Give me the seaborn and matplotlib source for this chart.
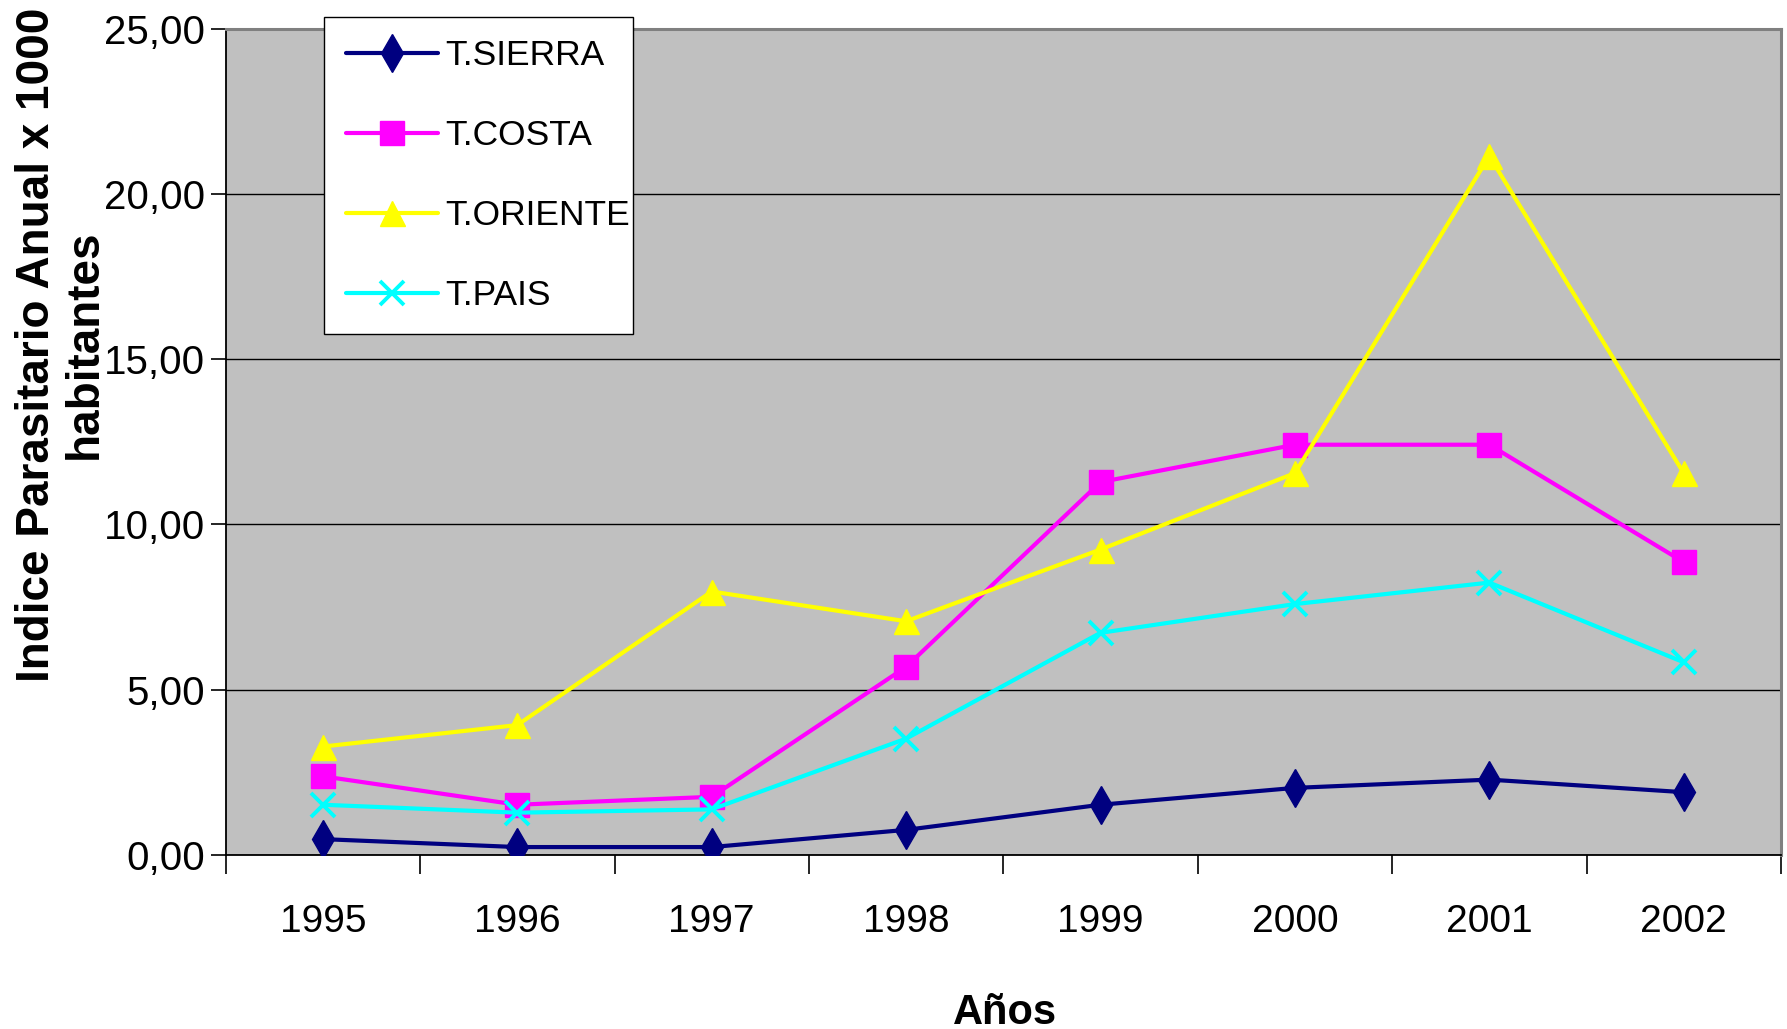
import matplotlib
matplotlib.use("Agg")
import matplotlib.pyplot as plt
from matplotlib.ticker import FixedLocator, FuncFormatter
import seaborn as sns
import pandas as pd

# Annual parasite index per 1000 inhabitants, by region
years = [1995, 1996, 1997, 1998, 1999, 2000, 2001, 2002]
sierra = [0.48, 0.24, 0.24, 0.76, 1.52, 2.03, 2.28, 1.90]
costa = [2.38, 1.52, 1.76, 5.69, 11.28, 12.41, 12.41, 8.86]
oriente = [3.28, 3.93, 7.97, 7.07, 9.24, 11.55, 21.14, 11.55]
pais = [1.52, 1.28, 1.38, 3.52, 6.72, 7.59, 8.24, 5.83]
series_names = ["T.SIERRA", "T.COSTA", "T.ORIENTE", "T.PAIS"]
y_ticks = [0, 5, 10, 15, 20, 25]

colors = {"T.SIERRA": "#000080", "T.COSTA": "#FF00FF",
          "T.ORIENTE": "#FFFF00", "T.PAIS": "#00FFFF"}
markers = {"T.SIERRA": "d", "T.COSTA": "s", "T.ORIENTE": "^", "T.PAIS": "x"}
msizes = {"T.SIERRA": 19, "T.COSTA": 17, "T.ORIENTE": 18, "T.PAIS": 17}

frames = []
for name, vals in zip(series_names, [sierra, costa, oriente, pais]):
    frames.append(pd.DataFrame({"Año": years, "Valor": vals, "Serie": name}))
df = pd.concat(frames, ignore_index=True)

sns.set_theme(style="white")
font_list = ["Liberation Sans", "DejaVu Sans"]
plt.rcParams["font.family"] = font_list
plt.rcParams["text.color"] = "black"
plt.rcParams["axes.labelcolor"] = "black"
plt.rcParams["xtick.color"] = "black"
plt.rcParams["ytick.color"] = "black"

fig = plt.figure(figsize=(17.87, 10.29), dpi=100)
fig.patch.set_facecolor("white")
ax = fig.add_axes([0.1263, 0.1691, 0.8703, 0.8032])
ax.set_facecolor("#C0C0C0")

for name in series_names:
    sub = df[df["Serie"] == name]
    sns.lineplot(data=sub, x="Año", y="Valor", ax=ax, color=colors[name],
                 linewidth=3.0, marker=markers[name], markersize=msizes[name],
                 markeredgecolor=colors[name],
                 markeredgewidth=2.8 if name == "T.PAIS" else 1,
                 label=name, zorder=3)

ax.set_xlim(years[0] - 0.5, years[-1] + 0.5)
ax.set_ylim(0, 25)

# horizontal gridlines
ax.yaxis.set_major_locator(FixedLocator(y_ticks))
ax.grid(axis="y", color="black", linewidth=1.0, zorder=1)
ax.grid(axis="x", visible=False)
ax.set_axisbelow(True)

ax.yaxis.set_major_formatter(FuncFormatter(lambda v, p: f"{v:.2f}".replace(".", ",")))
ax.tick_params(axis="y", which="major", direction="out", length=11, width=1.2,
               color="black", labelcolor="black", labelsize=29, pad=4, left=True)

ax.set_xticks(years)
ax.set_xticklabels([str(y) for y in years])
ax.tick_params(axis="x", which="major", length=0, labelsize=28, pad=35,
               labelcolor="black", bottom=True)
ax.xaxis.set_minor_locator(FixedLocator([y - 0.5 for y in years] + [years[-1] + 0.5]))
ax.tick_params(axis="x", which="minor", direction="out", length=14, width=1.2,
               color="black", bottom=True)

for side in ["left", "bottom"]:
    ax.spines[side].set_color("black")
    ax.spines[side].set_linewidth(1.3)
for side in ["top", "right"]:
    ax.spines[side].set_color("#808080")
    ax.spines[side].set_linewidth(2.2)

ax.set_xlabel("")
ax.set_ylabel("")
fig.text(0.5625, 0.016, "Años", ha="center", va="center", fontsize=30,
         fontweight="bold", color="black")
fig.text(0.034, 0.665, "Indice Parasitario Anual x 1000\nhabitantes", rotation=90,
         ha="center", va="center", fontsize=33, fontweight="bold", color="black",
         linespacing=1.1, multialignment="center")

ax.get_legend().remove()
handles, labels = ax.get_legend_handles_labels()
leg = fig.legend(handles, labels, loc="upper left",
                 bbox_to_anchor=(0.1813, 0.6715, 0.173, 0.312), mode="expand",
                 frameon=True, fancybox=False, fontsize=25.5, labelspacing=1.33,
                 handlelength=2.6, handletextpad=0.2, borderpad=0.62,
                 borderaxespad=0)
leg.get_frame().set_edgecolor("black")
leg.get_frame().set_linewidth(1.0)
leg.get_frame().set_facecolor("white")
leg.get_frame().set_alpha(1)

fig.savefig("out.png", dpi=100, facecolor="white")
